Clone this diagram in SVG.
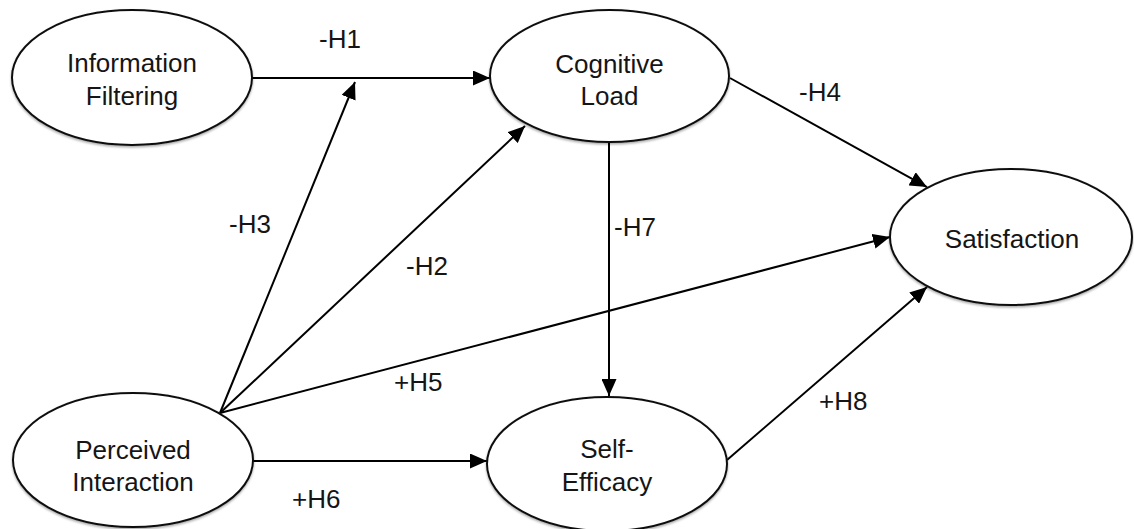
<svg xmlns="http://www.w3.org/2000/svg" width="1134" height="529" viewBox="0 0 1134 529">
  <defs>
    <marker id="arrow" markerUnits="userSpaceOnUse" markerWidth="18" markerHeight="15" refX="17" refY="7.5" orient="auto">
      <path d="M0,0 L17,7.5 L0,15 z" fill="#000"/>
    </marker>
    <filter id="soft" x="-10%" y="-10%" width="120%" height="130%">
      <feDropShadow dx="0" dy="1.5" stdDeviation="1.2" flood-color="#000" flood-opacity="0.35"/>
    </filter>
  </defs>
  <style>
    .node ellipse { fill: #fff; stroke: #111; stroke-width: 2; filter: url(#soft); }
    .node text, .label { font-family: "Liberation Sans", Arial, sans-serif; font-size: 26px; fill: #151515; }
    .node text { text-anchor: middle; }
    .edge { stroke: #000; stroke-width: 2; fill: none; marker-end: url(#arrow); }
  </style>
  <rect width="1134" height="529" fill="#fff"/>

  <!-- connectors -->
  <g id="connectors">
    <line class="edge" x1="252" y1="78" x2="490" y2="78"/>
    <line class="edge" x1="220" y1="413" x2="355" y2="82"/>
    <line class="edge" x1="220" y1="413" x2="525" y2="126"/>
    <line class="edge" x1="220" y1="413" x2="890" y2="237"/>
    <line class="edge" x1="253" y1="461" x2="487" y2="461"/>
    <line class="edge" x1="609" y1="142" x2="609" y2="396"/>
    <line class="edge" x1="730" y1="78" x2="927" y2="187"/>
    <line class="edge" x1="727" y1="460" x2="927" y2="287"/>
  </g>

  <!-- connector labels -->
  <g id="labels">
    <text class="label" x="319" y="48">-H1</text>
    <text class="label" x="229" y="233">-H3</text>
    <text class="label" x="406" y="275">-H2</text>
    <text class="label" x="799" y="101">-H4</text>
    <text class="label" x="614" y="236">-H7</text>
    <text class="label" x="394" y="391">+H5</text>
    <text class="label" x="292" y="508">+H6</text>
    <text class="label" x="819" y="410">+H8</text>
  </g>

  <!-- nodes -->
  <g id="information-filtering" class="node">
    <ellipse cx="132" cy="77.5" rx="120" ry="67.5"/>
    <text x="132" y="72">Information</text>
    <text x="132" y="105">Filtering</text>
  </g>
  <g id="cognitive-load" class="node">
    <ellipse cx="609.5" cy="76" rx="119.5" ry="66"/>
    <text x="609.5" y="73">Cognitive</text>
    <text x="609.5" y="105">Load</text>
  </g>
  <g id="satisfaction" class="node">
    <ellipse cx="1011" cy="237" rx="121" ry="68"/>
    <text x="1012" y="248">Satisfaction</text>
  </g>
  <g id="perceived-interaction" class="node">
    <ellipse cx="133" cy="460" rx="120" ry="67"/>
    <text x="133" y="459">Perceived</text>
    <text x="133" y="491">Interaction</text>
  </g>
  <g id="self-efficacy" class="node">
    <ellipse cx="607" cy="464" rx="120" ry="67"/>
    <text x="607" y="458">Self-</text>
    <text x="607" y="491">Efficacy</text>
  </g>
</svg>
